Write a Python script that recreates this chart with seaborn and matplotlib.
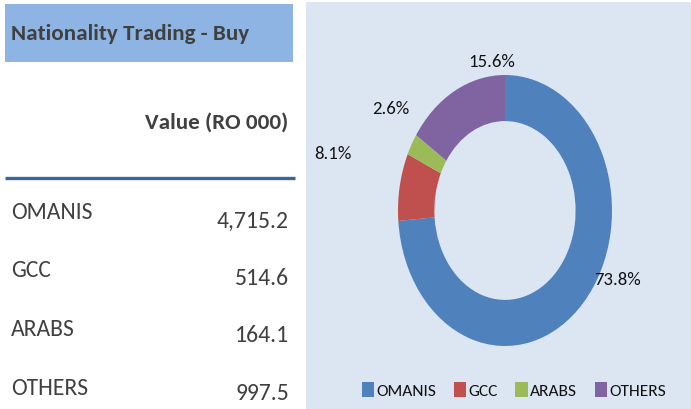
import matplotlib
matplotlib.use("Agg")
import matplotlib.pyplot as plt
from matplotlib.patches import Rectangle, Patch
import seaborn as sns

# ---- data ----
title = "Nationality Trading - Buy"
value_header = "Value (RO 000)"
categories = ["OMANIS", "GCC", "ARABS", "OTHERS"]
values = [4715.2, 514.6, 164.1, 997.5]
colors = ["#4F81BD", "#C0504D", "#9BBB59", "#8064A2"]

sns.set_theme(style="white")
plt.rcParams["font.family"] = ["Carlito", "DejaVu Sans"]
palette = sns.color_palette(colors)

W, H = 691, 410
fig = plt.figure(figsize=(W / 100, H / 100), dpi=100)
fig.patch.set_facecolor("white")

# background / table axes in pixel coordinates
bg = fig.add_axes([0, 0, 1, 1])
bg.set_xlim(0, W)
bg.set_ylim(H, 0)
bg.axis("off")

bg.add_patch(Rectangle((306, 3), W - 306, H - 3, facecolor="#DCE6F2", edgecolor="none", zorder=0))
bg.add_patch(Rectangle((5, 5), 288, 58, facecolor="#8DB4E2", edgecolor="none", zorder=1))
bg.plot([5, 295], [179, 179], color="#3A6596", lw=2.4, solid_capstyle="butt", zorder=2)

tcol = "#404040"
fs = 17
fsb = 16.6
bg.text(11, 40.5, title, fontsize=fsb, fontweight="bold", color=tcol, ha="left", va="baseline")
bg.text(288, 128.5, value_header, fontsize=fsb, fontweight="bold", color=tcol, ha="right", va="baseline")

label_base = [218.8, 277.4, 336.0, 395.0]
value_base = [227.8, 285.0, 342.3, 399.6]
for cat, val, yl, yv in zip(categories, values, label_base, value_base):
    bg.text(11, yl, cat, fontsize=fs, color=tcol, ha="left", va="baseline")
    bg.text(289, yv, f"{val:,.1f}", fontsize=fs, color=tcol, ha="right", va="baseline")

# donut chart (elliptical as in reference)
cx, cy, rx, ry = 505, 211.5, 107, 135.5
aw, ah = rx * 2.5, ry * 2.5
ax = fig.add_axes([(cx - aw / 2) / W, (H - cy - ah / 2) / H, aw / W, ah / H])
ax.patch.set_alpha(0)
wedges, _ = ax.pie(values, colors=palette, startangle=90, counterclock=False, radius=1.0,
                   wedgeprops=dict(width=0.34, linewidth=0))
ax.set_aspect("auto")
ax.set_xlim(-1.25, 1.25)
ax.set_ylim(-1.25, 1.25)
ax.axis("off")

total = sum(values)
label_pos = [(1.047, -0.495), (-1.607, 0.432), (-1.065, 0.764), (-0.121, 1.118)]
for val, (lx, ly) in zip(values, label_pos):
    ax.text(lx, ly, f"{val / total * 100:.1f}%", fontsize=13.5, color="#111111",
            ha="center", va="center_baseline", clip_on=False)

handles = [Patch(facecolor=c, edgecolor="none") for c in palette]
fig.legend(handles, categories, loc="center", bbox_to_anchor=(514 / W, 1 - 391 / H),
           ncol=4, frameon=False, fontsize=12.5, handlelength=0.7, handleheight=1.0,
           handletextpad=0.15, columnspacing=1.0, labelcolor="#111111")

fig.savefig("out.png", dpi=100, facecolor="white")
